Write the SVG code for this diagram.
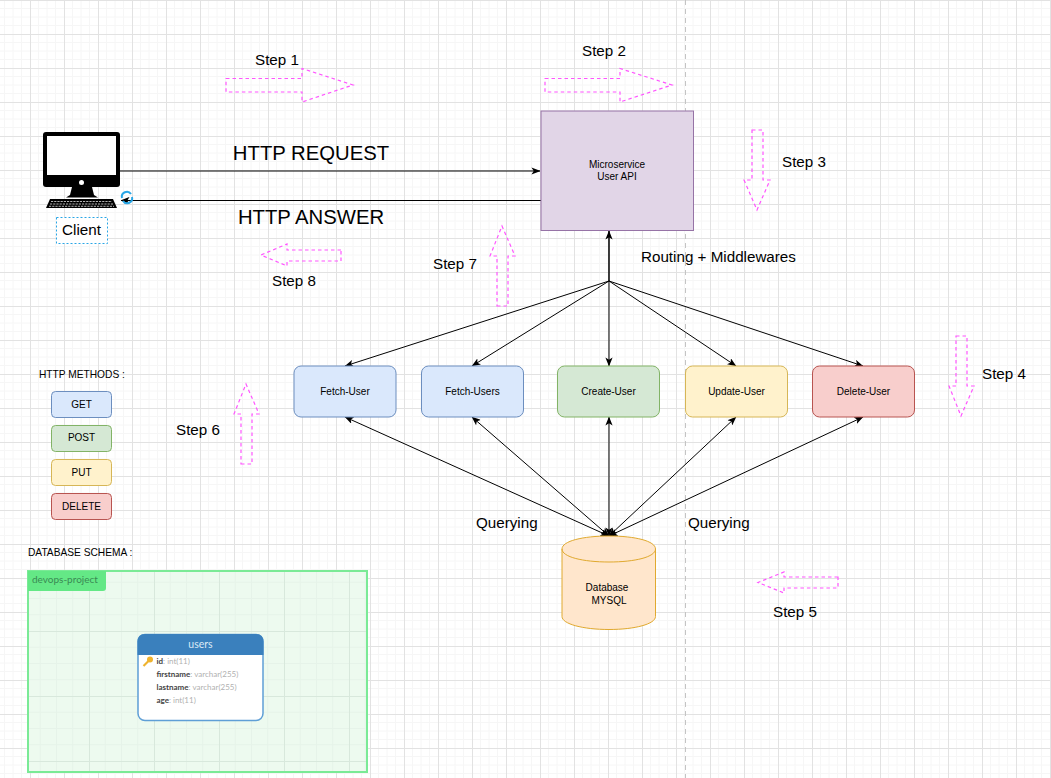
<svg xmlns="http://www.w3.org/2000/svg" width="1051" height="778" viewBox="0 0 1051 778">
<style>
text{font-family:"Liberation Sans",Arial,sans-serif;fill:#000}
.s{font-size:15.2px}.n{font-size:10px;text-anchor:middle}.b{font-size:20.300px;text-anchor:middle}.m{font-size:10.200px}
.step{fill:none;stroke:#ff55ff;stroke-width:1.200;stroke-dasharray:3.500 3}
.e{fill:none;stroke:#000;stroke-width:1}
.t{font-family:Lato,"Liberation Sans",sans-serif;font-size:8px;fill:#444;font-weight:700}
.t tspan{fill:#b0b0b0;font-weight:400}
</style>
<defs>
<pattern id="g" x="30" y="0" width="34" height="34" patternUnits="userSpaceOnUse">
<path d="M8.500 0V34M17 0V34M25.500 0V34M0 8.500H34M0 17H34M0 25.500H34" stroke="#f6f6f6" fill="none"/>
<path d="M.5 0V34M0 .5H34" stroke="#e2e2e2" fill="none"/>
</pattern>
<pattern id="g2" x="24" y="566" width="65" height="65" patternUnits="userSpaceOnUse">
<path d="M16.250 0V65M32.500 0V65M48.750 0V65M0 16.250H65M0 32.500H65M0 48.750H65" stroke="#e6f3e9" fill="none"/>
<path d="M.5 0V65M0 .5H65" stroke="#d8e8dc" fill="none"/>
</pattern>
<marker id="a" viewBox="0 0 10 8" refX="9.500" refY="4" markerWidth="9" markerHeight="7.200" markerUnits="userSpaceOnUse" orient="auto-start-reverse"><path d="M0 0L10 4L0 8L2.500 4Z" fill="#000"/></marker>
</defs>
<rect width="1051" height="778" fill="#fff"/>
<rect width="1051" height="778" fill="url(#g)"/>
<path d="M685.500 0V778" stroke="#c4c4c4" stroke-dasharray="5 4" fill="none"/>
<g id="connectors">
<path class="e" d="M118 171H540" marker-end="url(#a)"/>
<path class="e" d="M541 200.500H121" marker-end="url(#a)"/>
<path class="e" style="stroke-width:1.500" d="M609 281V231" marker-end="url(#a)"/>
<path class="e" d="M609 281L345 366" marker-end="url(#a)"/>
<path class="e" d="M609 281L472 366" marker-end="url(#a)"/>
<path class="e" d="M609 281V366" marker-end="url(#a)"/>
<path class="e" d="M609 281L736 366" marker-end="url(#a)"/>
<path class="e" d="M609 281L863 366" marker-end="url(#a)"/>
<path class="e" d="M609 536L345 417" marker-start="url(#a)" marker-end="url(#a)"/>
<path class="e" d="M609 536L472 417" marker-start="url(#a)" marker-end="url(#a)"/>
<path class="e" d="M609 536V417" marker-start="url(#a)" marker-end="url(#a)"/>
<path class="e" d="M609 536L736 417" marker-start="url(#a)" marker-end="url(#a)"/>
<path class="e" d="M609 536L863 417" marker-start="url(#a)" marker-end="url(#a)"/>
</g>
<g id="client">
<rect x="43" y="132" width="77" height="55" rx="3" fill="#000"/>
<rect x="47" y="136" width="69" height="39" fill="#fff"/>
<circle cx="81.500" cy="182.500" r="2.500" fill="#fff"/>
<path d="M72 187H92L94 195L98 197.500H66L70 195Z" fill="#000"/>
<path d="M50 199H113L117 208H46Z" fill="#000"/>
<path d="M51 201.500H112M50 204H113M49 206.300H114" stroke="#fff" stroke-width=".7" stroke-dasharray="2.200 1"/>
<rect x="56.500" y="217.500" width="51" height="26" fill="#fff" stroke="#29a6e6" stroke-width="1" stroke-dasharray="2 2"/>
<text class="s" x="81.500" y="234.500" text-anchor="middle">Client</text>
<path d="M122 198A5 5 0 0 1 131 194M132 197A5 5 0 0 1 123 201" fill="none" stroke="#29a6e6" stroke-width="2"/>
</g>
<g id="microservice">
<rect x="541" y="111" width="152.500" height="119.500" fill="#e1d5e7" stroke="#9673a6"/>
<text class="n" x="617" y="168">Microservice</text>
<text class="n" x="617" y="180">User API</text>
</g>
<g id="fetch-user"><rect x="294" y="366" width="102" height="51" rx="7" fill="#dae8fc" stroke="#6c8ebf"/><text class="n" x="345" y="395">Fetch-User</text></g>
<g id="fetch-users"><rect x="421.500" y="366" width="102" height="51" rx="7" fill="#dae8fc" stroke="#6c8ebf"/><text class="n" x="472.500" y="395">Fetch-Users</text></g>
<g id="create-user"><rect x="557.500" y="366" width="102" height="51" rx="7" fill="#d5e8d4" stroke="#82b366"/><text class="n" x="608.500" y="395">Create-User</text></g>
<g id="update-user"><rect x="685.500" y="366" width="102" height="51" rx="7" fill="#fff2cc" stroke="#d6b656"/><text class="n" x="736.500" y="395">Update-User</text></g>
<g id="delete-user"><rect x="812.500" y="366" width="102" height="51" rx="7" fill="#f8cecc" stroke="#b85450"/><text class="n" x="863.500" y="395">Delete-User</text></g>
<g id="database">
<path d="M562 549C562 541 583 536 609 536S655.500 541 655.500 549V616.500C655.500 624 635 629.500 609 629.500S562 624 562 616.500Z" fill="#ffe6cc" stroke="#e0a92e"/>
<path d="M562 549C562 557 583 562 609 562S655.500 557 655.500 549" fill="none" stroke="#e0a92e"/>
<text class="n" x="607" y="591">Database</text>
<text class="n" x="609" y="604">MYSQL</text>
</g>
<g id="labels">
<text class="b" x="311" y="159.500">HTTP REQUEST</text>
<text class="b" x="311" y="224">HTTP ANSWER</text>
<text class="s" x="641" y="262">Routing + Middlewares</text>
<text class="s" x="476" y="528">Querying</text>
<text class="s" x="688" y="528">Querying</text>
<text class="m" x="39" y="378">HTTP METHODS :</text>
<text class="m" x="28" y="556">DATABASE SCHEMA :</text>
</g>
<g id="steps">
<path class="step" d="M226 78.500H302V68.500L353 85L302 102V92H226Z"/><text class="s" x="255" y="65">Step 1</text>
<path class="step" d="M545 78.500H620V68.500L672 85L620 102V92H545Z"/><text class="s" x="582" y="56">Step 2</text>
<path class="step" d="M752 130H763V180H770L757 210L744 180H752Z"/><text class="s" x="782" y="167">Step 3</text>
<path class="step" d="M956 336H967V386H974L961 416L949 386H956Z"/><text class="s" x="982" y="379">Step 4</text>
<path class="step" d="M838 577H784V572L758 582.500L784 593V588H838Z"/><text class="s" x="773" y="617">Step 5</text>
<path class="step" d="M241 464H252V414H259L246 384L234 414H241Z"/><text class="s" x="176" y="435">Step 6</text>
<path class="step" d="M497 306H508V256H515L502 226L490 256H497Z"/><text class="s" x="433" y="269">Step 7</text>
<path class="step" d="M341 250H287V244L261 255L287 266V261H341Z"/><text class="s" x="272" y="286">Step 8</text>
</g>
<g id="method-get"><rect x="51.500" y="391.500" width="60" height="26" rx="4" fill="#dae8fc" stroke="#6c8ebf"/><text class="n" x="81.500" y="407.500">GET</text></g>
<g id="method-post"><rect x="51.500" y="425.500" width="60" height="26" rx="4" fill="#d5e8d4" stroke="#82b366"/><text class="n" x="81.500" y="441">POST</text></g>
<g id="method-put"><rect x="51.500" y="459.500" width="60" height="26" rx="4" fill="#fff2cc" stroke="#d6b656"/><text class="n" x="81.500" y="475.500">PUT</text></g>
<g id="method-delete"><rect x="51.500" y="493.500" width="60" height="26" rx="4" fill="#f8cecc" stroke="#b85450"/><text class="n" x="81.500" y="509.500">DELETE</text></g>
<g id="schema">
<rect x="28" y="571" width="339" height="201" fill="#edfaef"/>
<rect x="28" y="571" width="339" height="201" fill="url(#g2)"/>
<rect x="28" y="571" width="339" height="201" fill="none" stroke="#7aea96" stroke-width="2"/>
<path d="M28 571H106V588Q106 591 103 591H28Z" fill="#64e886"/>
<text x="32" y="583" style="font-family:Lato,sans-serif;font-size:10px;fill:#3a8a54">devops-project</text>
<rect x="138" y="634.500" width="125" height="86" rx="7" fill="#fff" stroke="#5f9fd6" stroke-width="1.500"/>
<path d="M137.500 655V641.500Q137.500 634 145 634H256Q263.500 634 263.500 641.500V655Z" fill="#3a80bd"/>
<text x="200.500" y="648" text-anchor="middle" style="font-family:Lato,sans-serif;font-size:10.500px;fill:#dbe9f5">users</text>
<circle cx="150" cy="659.500" r="3" fill="#efb32f"/>
<path d="M148.500 661L143.500 666" stroke="#efb32f" stroke-width="2.200" fill="none"/>
<text class="t" x="156.500" y="663.500">id<tspan>: int(11)</tspan></text>
<text class="t" x="156.500" y="676.500">firstname<tspan>: varchar(255)</tspan></text>
<text class="t" x="156.500" y="689.500">lastname<tspan>: varchar(255)</tspan></text>
<text class="t" x="156.500" y="702.500">age<tspan>: int(11)</tspan></text>
</g>
</svg>
